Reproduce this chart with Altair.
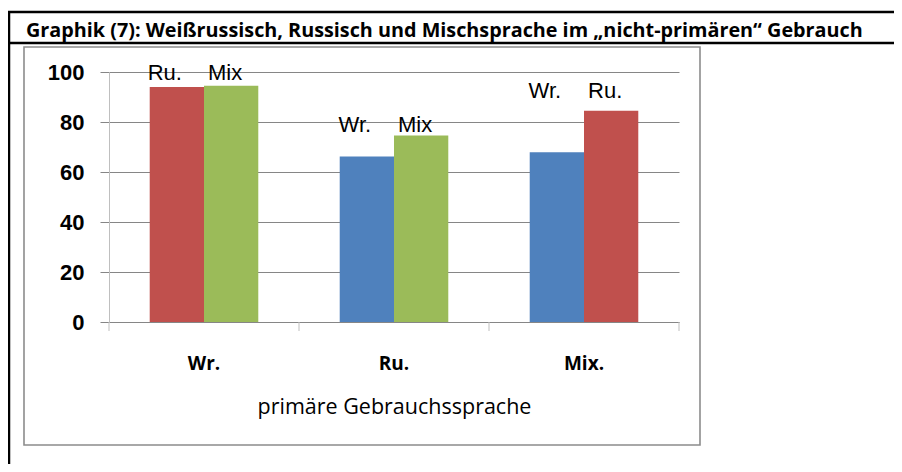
import altair as alt
import pandas as pd

# ---- data ----
categories = ["Wr.", "Ru.", "Mix."]
group_series = [["Ru.", "Mix"], ["Wr.", "Mix"], ["Wr.", "Ru."]]
group_values = [[94.0, 94.5], [66.2, 74.6], [67.9, 84.5]]
label_levels = [99.6, 78.9, 92.5]
series_names = ["Wr.", "Ru.", "Mix"]
series_colors = ["#4F81BD", "#C0504D", "#9BBB59"]
y_ticks = [0, 20, 40, 60, 80, 100]
title_text = "Graphik (7): Weißrussisch, Russisch und Mischsprache im „nicht-primären“ Gebrauch"
x_title = "primäre Gebrauchssprache"

rows = []
for ci, cat in enumerate(categories):
    for slot in range(2):
        rows.append({
            "category": cat,
            "slot": slot,
            "series": group_series[ci][slot],
            "value": group_values[ci][slot],
            "label_y": label_levels[ci],
        })
df = pd.DataFrame(rows)
one = pd.DataFrame({"d": [0]})

W, H = 570, 250

x_enc = alt.X(
    "category:N",
    sort=categories,
    scale=alt.Scale(paddingInner=0, paddingOuter=0),
    axis=alt.Axis(
        title=x_title,
        labelAngle=0,
        ticks=False,
        tickSize=0,
        domain=True,
        domainColor="#868686",
        domainWidth=1,
        labelFont="Open Sans",
        labelFontWeight="bold",
        labelFontSize=19,
        labelColor="#000000",
        labelBaseline="middle",
        labelPadding=41,
        titleFont="Open Sans",
        titleFontWeight="normal",
        titleFontSize=21.5,
        titleColor="#000000",
        titlePadding=23,
    ),
)
xoff_enc = alt.XOffset("slot:N", scale=alt.Scale(paddingInner=0, paddingOuter=0.75))

y_enc = alt.Y(
    "value:Q",
    scale=alt.Scale(domain=[0, 100]),
    axis=alt.Axis(
        title=None,
        values=y_ticks,
        grid=True,
        gridColor="#868686",
        gridWidth=1,
        domain=True,
        domainColor="#BFBFBF",
        domainWidth=1,
        ticks=True,
        tickSize=9,
        tickColor="#868686",
        labelFont="Liberation Sans",
        labelFontWeight="bold",
        labelFontSize=22,
        labelColor="#000000",
        labelPadding=16,
    ),
)

base = alt.Chart(df)

bars = base.mark_bar().encode(
    x=x_enc,
    xOffset=xoff_enc,
    y=y_enc,
    color=alt.Color(
        "series:N",
        scale=alt.Scale(domain=series_names, range=series_colors),
        legend=None,
    ),
)

def label_layer(slot, dx):
    return base.transform_filter(alt.datum.slot == slot).mark_text(
        font="Liberation Sans", fontSize=22, color="#000000",
        baseline="middle", align="center", dx=dx,
    ).encode(
        x=alt.X("category:N", sort=categories),
        xOffset="slot:N",
        y=alt.Y("label_y:Q"),
        text="series:N",
    )

labels0 = label_layer(0, -12)
labels1 = label_layer(1, -6)

# category boundary ticks below the x axis
tick_rules = base.transform_filter(alt.datum.slot == 0).mark_rule(
    color="#BFBFBF", strokeWidth=1
).encode(
    x=alt.X("category:N", sort=categories, bandPosition=0),
    y=alt.value(H),
    y2=alt.value(H + 9),
)
end_tick = alt.Chart(one).mark_rule(color="#BFBFBF", strokeWidth=1).encode(
    x=alt.value(W), y=alt.value(H), y2=alt.value(H + 9)
)

# frame decorations
inner_box = alt.Chart(one).mark_rect(
    fillOpacity=0, stroke="#8C8C8C", strokeWidth=1.6
).encode(
    x=alt.value(-85), x2=alt.value(591), y=alt.value(-25), y2=alt.value(373)
)
top_line = alt.Chart(one).mark_rule(color="#000000", strokeWidth=2.5).encode(
    x=alt.value(-101), x2=alt.value(786), y=alt.value(-60)
)
sep_line = alt.Chart(one).mark_rule(color="#000000", strokeWidth=2.5).encode(
    x=alt.value(-101), x2=alt.value(786), y=alt.value(-29)
)
left_line = alt.Chart(one).mark_rule(color="#000000", strokeWidth=2.5).encode(
    x=alt.value(-100), y=alt.value(-61), y2=alt.value(392)
)
title_mark = alt.Chart(one).mark_text(
    font="Open Sans", fontWeight="bold", fontSize=19.8, color="#000000",
    align="left", baseline="alphabetic",
).encode(x=alt.value(-83), y=alt.value(-35), text=alt.value(title_text))

chart = alt.layer(
    inner_box, bars, labels0, labels1, tick_rules, end_tick,
    top_line, sep_line, left_line, title_mark,
).properties(
    width=W,
    height=H,
    autosize=alt.AutoSizeParams(type="none"),
    padding={"left": 101, "top": 64, "right": 215, "bottom": 142},
    background="#FFFFFF",
).configure_view(strokeWidth=0)

chart.save("out.html", embed_options={"renderer": "svg", "actions": False})
